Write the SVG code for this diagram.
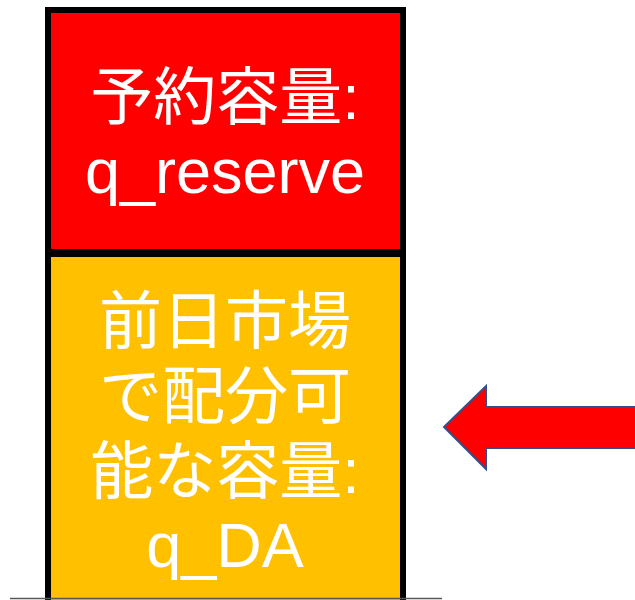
<svg xmlns="http://www.w3.org/2000/svg" width="635" height="600" viewBox="0 0 635 600">
<style>
.box{stroke:#000;stroke-width:6}
.t{font-family:"Liberation Sans","Noto Sans CJK JP",sans-serif;font-size:63px;fill:#fff;text-anchor:middle}
</style>
<rect width="635" height="600" fill="#fff"/>
<g id="reserve">
<rect class="box" x="48" y="10" width="355" height="242" fill="#FF0000"/>
<text class="t" x="225" y="119">予約容量:</text>
<text class="t" x="225" y="193">q_reserve</text>
</g>
<g id="da">
<rect class="box" x="48" y="254" width="355" height="360" fill="#FFC000"/>
<text class="t" x="225" y="343">前日市場</text>
<text class="t" x="225" y="418">で配分可</text>
<text class="t" x="225" y="493">能な容量:</text>
<text class="t" x="225" y="567">q_DA</text>
</g>
<g id="connectors">
<line x1="10" y1="598.5" x2="442" y2="598.5" stroke="#595959" stroke-width="1.5"/>
<polygon points="444,427 486,386 486,407 640,407 640,448 486,448 486,469" fill="#FF0000" stroke="#2F528F" stroke-width="2"/>
</g>
</svg>
